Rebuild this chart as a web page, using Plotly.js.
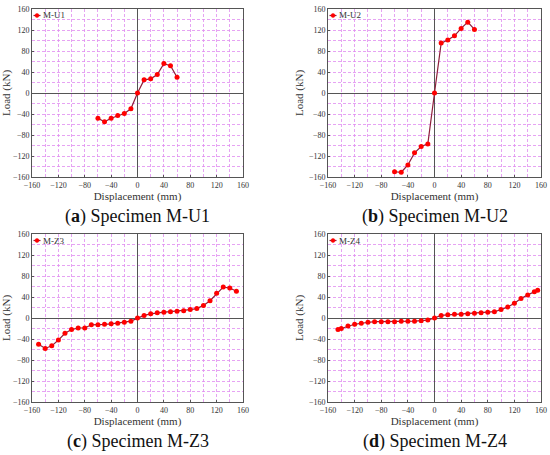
<!DOCTYPE html>
<html><head><meta charset="utf-8">
<script src="https://cdn.plot.ly/plotly-3.0.1.min.js"></script>
<style>html,body{margin:0;padding:0;background:#fff;}#chart{width:550px;height:455px;}</style>
</head><body><div id="chart"></div>
<script>
const xU = [-60,-50,-40,-30,-20,-10,0,10,20,30,40,50,60];
const yU1 = [-48,-55,-48,-43,-39,-30,0,25,27,35,56,52,30];
const yU2 = [-150,-151,-137,-114,-102,-97,0,95,101,109,123,135,121];
const xZ3 = [-150,-140,-130,-120,-110,-100,-90,-80,-70,-60,-50,-40,-30,-20,-10,0,10,20,30,40,50,60,70,80,90,100,110,120,130,140,150];
const yZ3 = [-50,-58,-53,-42,-29,-22,-19,-19,-13,-13,-12,-11,-10,-8,-6,0,5,8,10,11,12,13,14,16,18,24,33,47,59,57,51];
const xZ4 = [-145,-140,-130,-120,-110,-100,-90,-80,-70,-60,-50,-40,-30,-20,-10,0,10,20,30,40,50,60,70,80,90,100,110,120,130,140,150,155];
const yZ4 = [-22,-20,-15,-12,-10,-8,-7,-7,-7,-7,-6,-6,-6,-5,-4,0,5,6,7,7,8,9,10,11,12,16,21,28,37,44,50,53];
const names = ["M-U1","M-U2","M-Z3","M-Z4"];
const captions = ["(<b>a</b>) Specimen M-U1","(<b>b</b>) Specimen M-U2","(<b>c</b>) Specimen M-Z3","(<b>d</b>) Specimen M-Z4"];
const tickVals = [-160,-120,-80,-40,0,40,80,120,160];
const tickText = ["\u2212160","\u2212120","\u221280","\u221240","0","40","80","120","160"];
const minorVals = [-140,-100,-60,-20,20,60,100,140];

const W=550,H=455;
const SERIF='"Liberation Serif", "Times New Roman", serif';
const LINE='#8e1f3c', MK='#ff0000';
const boxes = [[32,243,9,177],[328,541,9,177],[32,243,234,402],[328,541,234,402]];
const series = [[xU,yU1],[xU,yU2],[xZ3,yZ3],[xZ4,yZ4]];
const traces=[];
const layout={width:W,height:H,margin:{l:0,r:0,t:0,b:0},paper_bgcolor:'#fff',plot_bgcolor:'#fff',
  showlegend:false,font:{family:SERIF,color:'#333'},annotations:[],shapes:[]};
const grid='#e08cf0';
boxes.forEach((b,i)=>{
  const k=i+1; const xa='x'+(k>1?k:''), ya='y'+(k>1?k:'');
  traces.push({x:series[i][0],y:series[i][1],type:'scatter',mode:'lines+markers',name:names[i],
    xaxis:xa,yaxis:ya,line:{color:LINE,width:1.2},marker:{color:MK,size:5,symbol:'circle'}});
  const common={range:[-160,160],tickvals:tickVals,ticktext:tickText,
    showline:true,mirror:true,linecolor:'#555',linewidth:1,ticks:'inside',ticklen:2,tickcolor:'#555',
    showgrid:true,gridcolor:grid,griddash:'3px,2px',gridwidth:0.8,
    minor:{tickvals:minorVals,showgrid:true,gridcolor:grid,griddash:'3px,2px',gridwidth:0.8},
    zeroline:true,zerolinecolor:'#555',zerolinewidth:1,
    tickfont:{family:SERIF,size:8,color:'#333'}};
  layout['xaxis'+(k>1?k:'')]=Object.assign({},common,{domain:[b[0]/W,b[1]/W],anchor:ya,
    title:{text:'Displacement (mm)',font:{family:SERIF,size:11,color:'#333'},standoff:1}});
  layout['yaxis'+(k>1?k:'')]=Object.assign({},common,{domain:[1-b[3]/H,1-b[2]/H],anchor:xa,
    title:{text:'Load (kN)',font:{family:SERIF,size:11,color:'#333'},standoff:3}});
  const ly=1-(b[2]+6.5)/H;
  layout.shapes.push({type:'line',xref:'paper',yref:'paper',x0:(b[0]+1.5)/W,x1:(b[0]+8.5)/W,y0:ly,y1:ly,line:{color:LINE,width:1.2}});
  layout.shapes.push({type:'circle',xref:'paper',yref:'paper',x0:(b[0]+3)/W,x1:(b[0]+7)/W,y0:ly-2/H,y1:ly+2/H,fillcolor:MK,line:{color:MK,width:0.5}});
  layout.annotations.push({xref:'paper',yref:'paper',x:(b[0]+9)/W,y:ly,xanchor:'left',yanchor:'middle',
    showarrow:false,text:names[i],font:{family:SERIF,size:9,color:'#333'}});
  layout.annotations.push({xref:'paper',yref:'paper',x:(b[0]+b[1])/2/W,y:1-(b[3]+39)/H,xanchor:'center',yanchor:'middle',
    showarrow:false,text:captions[i],font:{size:18,color:'#111',family:SERIF}});
});
Plotly.newPlot('chart',traces,layout,{staticPlot:true,displayModeBar:false});
</script></body></html>
